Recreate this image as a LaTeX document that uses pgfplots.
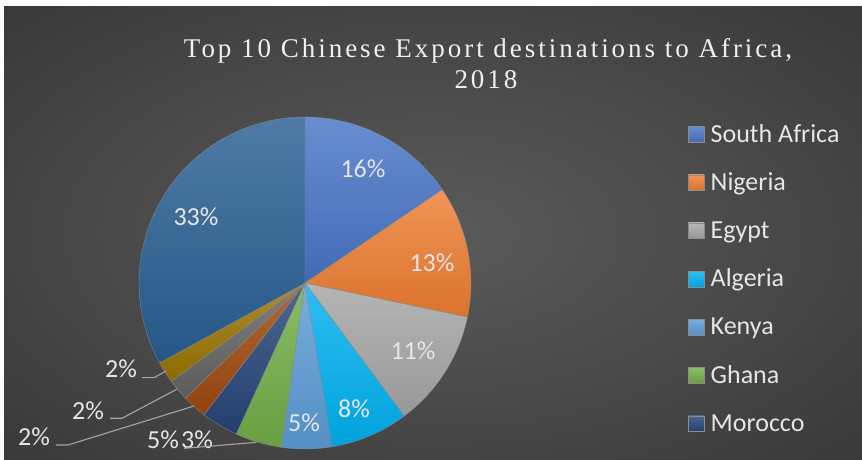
\documentclass[border=0pt]{standalone}
\usepackage{pgfplots}
\pgfplotsset{compat=1.18}
\usepackage{fontspec}
\setmainfont{Liberation Serif}
\newfontfamily\calfont{Carlito}
\newfontfamily\titlefont[LetterSpace=11]{Liberation Serif}
\definecolor{cSA}{HTML}{4774C6}
\definecolor{cNG}{HTML}{ED7D31}
\definecolor{cEG}{HTML}{A5A5A5}
\definecolor{cAL}{HTML}{00B0F0}
\definecolor{cKE}{HTML}{5B9BD5}
\definecolor{cGH}{HTML}{70AD47}
\definecolor{cMO}{HTML}{264478}
\definecolor{cTZ}{HTML}{9E480E}
\definecolor{cG2}{HTML}{636363}
\definecolor{cGD}{HTML}{997300}
\definecolor{cOT}{HTML}{285E92}
\definecolor{bgin}{HTML}{5A5A5A}
\definecolor{bgmid}{HTML}{4A4A4A}
\definecolor{bgout}{HTML}{2B2B2B}
\definecolor{lbl}{HTML}{E6E6E6}
\definecolor{ttl}{HTML}{F0F0F0}
\definecolor{lead}{HTML}{A6A6A6}
\pgfdeclareradialshading{bgshade}{\pgfpoint{0bp}{0bp}}{color(0bp)=(bgin); color(18bp)=(bgmid); color(50bp)=(bgout); color(75bp)=(bgout)}
\begin{document}
\begin{tikzpicture}[x=1pt,y=1pt]
\path[use as bounding box] (0,0) rectangle (862,460);
\fill[white] (0,0) rectangle (862,460);
\shade[shading=bgshade] (4,0) rectangle (862,453);
\begin{axis}[at={(0,0)}, anchor=south west, scale only axis,
  width=862pt, height=460pt, xmin=0, xmax=862, ymin=0, ymax=460,
  hide axis, clip=false,
  legend cell align=left,
  legend style={at={(axis cs:688,337)}, anchor=north west, draw=none, fill=none,
    font=\calfont\fontsize{26}{30}\selectfont, text=lbl, row sep=23.2pt, inner sep=0pt,
    nodes={inner xsep=6.5pt, inner ysep=0pt, text height=19pt, text depth=6pt}},
  legend image code/.code={\fill[#1] (0pt,-6.5pt) rectangle (15.7pt,9.2pt);},
  slice/.style={draw=black!45, line width=0.3pt, samples=80, top color=#1!82!white, bottom color=#1!92!black}]
% percentage shares, clockwise from 12 o'clock
\addplot[slice=cSA, domain={90-3.6*(0+15.5)}:{90-3.6*0}] ({305+166*cos(x)},{177+166*sin(x)}) -- (axis cs:305,177) -- cycle;
\addlegendentry{South Africa}
\addplot[slice=cNG, domain={90-3.6*(15.5+12.8)}:{90-3.6*15.5}] ({305+166*cos(x)},{177+166*sin(x)}) -- (axis cs:305,177) -- cycle;
\addlegendentry{Nigeria}
\addplot[slice=cEG, domain={90-3.6*(28.3+11.5)}:{90-3.6*28.3}] ({305+166*cos(x)},{177+166*sin(x)}) -- (axis cs:305,177) -- cycle;
\addlegendentry{Egypt}
\addplot[slice=cAL, domain={90-3.6*(39.8+7.6)}:{90-3.6*39.8}] ({305+166*cos(x)},{177+166*sin(x)}) -- (axis cs:305,177) -- cycle;
\addlegendentry{Algeria}
\addplot[slice=cKE, domain={90-3.6*(47.4+4.9)}:{90-3.6*47.4}] ({305+166*cos(x)},{177+166*sin(x)}) -- (axis cs:305,177) -- cycle;
\addlegendentry{Kenya}
\addplot[slice=cGH, domain={90-3.6*(52.3+4.5)}:{90-3.6*52.3}] ({305+166*cos(x)},{177+166*sin(x)}) -- (axis cs:305,177) -- cycle;
\addlegendentry{Ghana}
\addplot[slice=cMO, domain={90-3.6*(56.8+3.6)}:{90-3.6*56.8}] ({305+166*cos(x)},{177+166*sin(x)}) -- (axis cs:305,177) -- cycle;
\addlegendentry{Morocco}
\addplot[slice=cTZ, forget plot, domain={90-3.6*(60.4+2.4)}:{90-3.6*60.4}] ({305+166*cos(x)},{177+166*sin(x)}) -- (axis cs:305,177) -- cycle;
\addplot[slice=cG2, forget plot, domain={90-3.6*(62.8+2.1)}:{90-3.6*62.8}] ({305+166*cos(x)},{177+166*sin(x)}) -- (axis cs:305,177) -- cycle;
\addplot[slice=cGD, forget plot, domain={90-3.6*(64.9+2.1)}:{90-3.6*64.9}] ({305+166*cos(x)},{177+166*sin(x)}) -- (axis cs:305,177) -- cycle;
\addplot[slice=cOT, forget plot, domain={90-3.6*(67.0+33.0)}:{90-3.6*67.0}] ({305+166*cos(x)},{177+166*sin(x)}) -- (axis cs:305,177) -- cycle;
% data labels
\begin{scope}[every node/.style={font=\calfont\fontsize{26}{30}\selectfont, text=lbl, inner sep=0pt}]
\node at (axis cs:363,291) {16\%};
\node at (axis cs:432,197) {13\%};
\node at (axis cs:413,109) {11\%};
\node at (axis cs:354,51) {8\%};
\node at (axis cs:304,37) {5\%};
\node at (axis cs:196,243) {33\%};
\node at (axis cs:121,91) {2\%};
\node at (axis cs:88,49) {2\%};
\node at (axis cs:34,23) {2\%};
\node at (axis cs:163,20) {5\%};
\node at (axis cs:197,20) {3\%};
\end{scope}
\draw[lead, line width=1.1pt] (axis cs:142,82.3) -- (axis cs:154,82.3) -- (axis cs:166,89);
\draw[lead, line width=1.1pt] (axis cs:110,41.7) -- (axis cs:122,41.7) -- (axis cs:176.7,70.7);
\draw[lead, line width=1.1pt] (axis cs:56,15) -- (axis cs:68,15) -- (axis cs:194,54);
\draw[lead, line width=1.1pt] (axis cs:184,11.7) -- (axis cs:256.7,17.7);
% title
\node[font=\titlefont\fontsize{27}{32}\selectfont, text=ttl, anchor=base, inner sep=0pt] at (axis cs:488,402.3) {Top 10 Chinese Export destinations to Africa,};
\node[font=\titlefont\fontsize{27}{32}\selectfont, text=ttl, anchor=base, inner sep=0pt] at (axis cs:486,371) {2018};
\end{axis}
\end{tikzpicture}
\end{document}
